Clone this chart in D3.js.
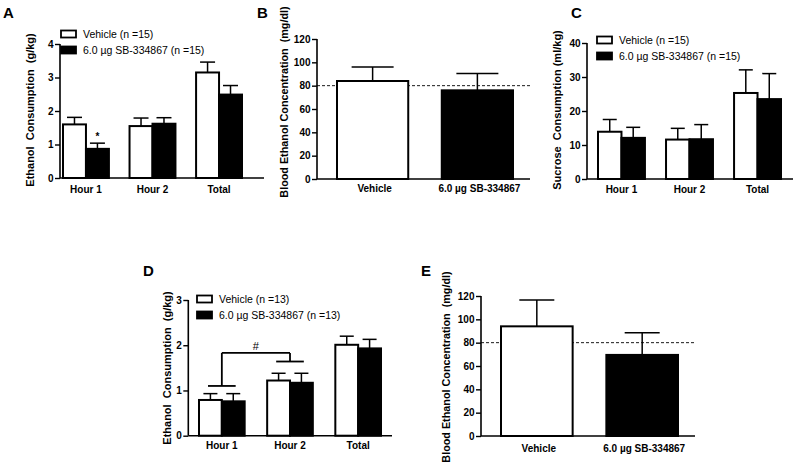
<!DOCTYPE html>
<html><head><meta charset="utf-8">
<script src="https://cdn.jsdelivr.net/npm/d3@7"></script>
<style>body{margin:0;background:#fff}svg{display:block}text{font-family:"Liberation Sans",Arial,sans-serif}</style>
</head><body>
<svg id="c" width="800" height="472"></svg>
<script>
// ---------- data ----------
const hourCats = ["Hour 1", "Hour 2", "Total"];
const becCats = ["Vehicle", "6.0 µg SB-334867"];
const seriesNames = ["Vehicle", "6.0 µg SB-334867"];

const aVehicle = [1.60, 1.55, 3.15];
const aVehicleErr = [0.21, 0.24, 0.31];
const aDrug = [0.87, 1.62, 2.49];
const aDrugErr = [0.17, 0.18, 0.27];
const aLegend = ["Vehicle (n =15)", "6.0 µg SB-334867 (n =15)"];

const bValues = [84, 76];
const bErr = [12, 14.5];

const cVehicle = [13.9, 11.6, 25.3];
const cVehicleErr = [3.6, 3.3, 6.8];
const cDrug = [12.1, 11.7, 23.5];
const cDrugErr = [3.1, 4.3, 7.5];
const cLegend = ["Vehicle (n =15)", "6.0 µg SB-334867 (n =15)"];

const dVehicle = [0.79, 1.22, 2.01];
const dVehicleErr = [0.14, 0.16, 0.19];
const dDrug = [0.76, 1.17, 1.93];
const dDrugErr = [0.17, 0.21, 0.20];
const dLegend = ["Vehicle (n =13)", "6.0 µg SB-334867 (n =13)"];

const eValues = [94, 69.5];
const eErr = [22.5, 19];

const aTicks = [0, 1, 2, 3, 4];
const bTicks = [0, 20, 40, 60, 80, 100, 120];
const cTicks = [0, 10, 20, 30, 40];
const dTicks = [0, 1, 2, 3];
const eTicks = [0, 20, 40, 60, 80, 100, 120];
const bloodThreshold = 80;

// ---------- drawing ----------
const svg = d3.select("#c");
const FONT = '"Liberation Sans",Arial,sans-serif';

function yAxis(g, y, x0, ticks, fs) {
  const ax = d3.axisLeft(y).tickValues(ticks).tickSize(5).tickPadding(1.5).tickFormat(d3.format("d"));
  const a = g.append("g").attr("transform", `translate(${x0},0)`).call(ax);
  a.select(".domain").attr("stroke", "#000").attr("stroke-width", 1.6).attr("d", `M0,${y(ticks[0])}V${y(ticks[ticks.length-1])}`);
  a.selectAll(".tick line").attr("stroke", "#000").attr("stroke-width", 1.4);
  a.selectAll(".tick text").attr("font-family", FONT).attr("font-weight", "bold").attr("font-size", fs).attr("fill", "#000");
}

function yTitle(g, text, x, y, fs) {
  g.append("text").attr("transform", `translate(${x},${y}) rotate(-90)`).attr("text-anchor", "middle")
    .attr("font-weight", "bold").attr("font-size", fs).attr("xml:space", "preserve").text(text);
}

function panelLabel(g, t, x, y) {
  g.append("text").attr("x", x).attr("y", y).attr("font-weight", "bold").attr("font-size", 15).text(t);
}

function errBar(g, cx, yTop, yErr, half) {
  g.append("line").attr("x1", cx).attr("x2", cx).attr("y1", yTop).attr("y2", yErr).attr("stroke", "#000").attr("stroke-width", 1.5);
  g.append("line").attr("x1", cx - half).attr("x2", cx + half).attr("y1", yErr).attr("y2", yErr).attr("stroke", "#000").attr("stroke-width", 1.5);
}

function legend(g, labels, x, y1, y2, fs) {
  [y1, y2].forEach((yy, i) => {
    g.append("rect").attr("x", x).attr("y", yy - 3.5).attr("width", 15).attr("height", 7)
      .attr("fill", i ? "#000" : "#fff").attr("stroke", "#000").attr("stroke-width", 1.8);
    g.append("text").attr("x", x + 22).attr("y", yy + 4).attr("font-size", fs).text(labels[i]);
  });
}

function grouped(o) {
  const g = svg.append("g");
  const y = d3.scaleLinear().domain([o.ticks[0], o.ticks[o.ticks.length-1]]).range([o.yBase, o.yTop]);
  const x = d3.scaleBand().domain(o.cats).range(o.band).paddingInner(o.pad).paddingOuter(0);
  const xs = d3.scaleBand().domain(seriesNames).range([0, x.bandwidth()]);
  const sets = [[o.veh, o.vehErr], [o.drug, o.drugErr]];
  o.cats.forEach((c, i) => {
    sets.forEach((s, j) => {
      const bx = x(c) + xs(seriesNames[j]);
      const top = y(s[0][i]);
      errBar(g, bx + xs.bandwidth() / 2, top, y(s[0][i] + s[1][i]), o.cap);
      g.append("rect").attr("x", bx).attr("y", top).attr("width", xs.bandwidth()).attr("height", y(0) - top)
        .attr("fill", j ? "#000" : "#fff").attr("stroke", "#000").attr("stroke-width", 2);
    });
    g.append("text").attr("x", x(c) + x.bandwidth() / 2).attr("y", o.labelY).attr("text-anchor", "middle")
      .attr("font-weight", "bold").attr("font-size", 10).text(c);
  });
  g.append("line").attr("x1", o.x0).attr("x2", o.xEnd).attr("y1", y(0)).attr("y2", y(0)).attr("stroke", "#000").attr("stroke-width", 1.6);
  yAxis(g, y, o.x0, o.ticks, 10);
  yTitle(g, o.title, o.titleX, o.titleY, 11);
  panelLabel(g, o.letter, o.letterX, o.letterY);
  legend(g, o.legend, o.legX, y(o.ticks[o.ticks.length-1]) - 1 + o.legDy, y(o.ticks[o.ticks.length-1]) + 15 + o.legDy, 10.5);
  return {g, x, xs, y};
}

function blood(o) {
  const g = svg.append("g");
  const y = d3.scaleLinear().domain([0, 120]).range([o.yBase, o.yTop]);
  const x = d3.scaleBand().domain(becCats).range(o.band).paddingInner(o.pad).paddingOuter(0);
  g.append("line").attr("x1", o.x0).attr("x2", o.xEnd).attr("y1", y(bloodThreshold)).attr("y2", y(bloodThreshold))
    .attr("stroke", "#000").attr("stroke-width", 0.9).attr("stroke-dasharray", "3,2");
  becCats.forEach((c, i) => {
    const top = y(o.vals[i]);
    errBar(g, x(c) + x.bandwidth() / 2, top, y(o.vals[i] + o.err[i]), o.cap);
    g.append("rect").attr("x", x(c)).attr("y", top).attr("width", x.bandwidth()).attr("height", y(0) - top)
      .attr("fill", i ? "#000" : "#fff").attr("stroke", "#000").attr("stroke-width", 2);
    g.append("text").attr("x", x(c) + x.bandwidth() / 2 + 2).attr("y", o.labelY).attr("text-anchor", "middle")
      .attr("font-weight", "bold").attr("font-size", 10).text(c);
  });
  g.append("line").attr("x1", o.x0).attr("x2", o.xEnd).attr("y1", y(0)).attr("y2", y(0)).attr("stroke", "#000").attr("stroke-width", 1.6);
  yAxis(g, y, o.x0, o.ticks, 10);
  yTitle(g, "Blood Ethanol Concentration  (mg/dl)", o.titleX, o.titleY, 10.8);
  panelLabel(g, o.letter, o.letterX, o.letterY);
}

// Panel A
const A = grouped({cats: hourCats, veh: aVehicle, vehErr: aVehicleErr, drug: aDrug, drugErr: aDrugErr,
  ticks: aTicks, yBase: 178, yTop: 44, band: [63, 242], pad: 0.31, x0: 60, xEnd: 264, cap: 7.5, labelY: 193,
  title: "Ethanol  Consumption  (g/kg)", titleX: 34, titleY: 110, letter: "A", letterX: 3, letterY: 18,
  legend: aLegend, legX: 61, legDy: -9});
A.g.append("text").attr("x", A.x("Hour 1") + A.xs("6.0 µg SB-334867") + A.xs.bandwidth() / 2).attr("y", A.y(aDrug[0] + aDrugErr[0]) - 3)
  .attr("text-anchor", "middle").attr("font-weight", "bold").attr("font-size", 10).text("*");

// Panel B
blood({vals: bValues, err: bErr, ticks: bTicks, yBase: 179, yTop: 39, band: [337, 513], pad: 0.32,
  x0: 317, xEnd: 530, cap: 21, labelY: 192, titleX: 288, titleY: 102, letter: "B", letterX: 257, letterY: 18});

// Panel C
grouped({cats: hourCats, veh: cVehicle, vehErr: cVehicleErr, drug: cDrug, drugErr: cDrugErr,
  ticks: cTicks, yBase: 179, yTop: 43, band: [598, 781], pad: 0.31, x0: 587, xEnd: 793, cap: 7, labelY: 193,
  title: "Sucrose  Consumption (ml/kg)", titleX: 561, titleY: 110, letter: "C", letterX: 571, letterY: 18,
  legend: cLegend, legX: 597, legDy: -2});

// Panel D
const D = grouped({cats: hourCats, veh: dVehicle, vehErr: dVehicleErr, drug: dDrug, drugErr: dDrugErr,
  ticks: dTicks, yBase: 435.7, yTop: 300, band: [199, 381], pad: 0.33, x0: 188.3, xEnd: 392, cap: 7, labelY: 449,
  title: "Ethanol  Consumption  (g/kg)", titleX: 171, titleY: 368, letter: "D", letterX: 143, letterY: 276,
  legend: dLegend, legX: 197, legDy: 0});
(function () {
  const h1 = D.x("Hour 1"), h2 = D.x("Hour 2"), bw = D.x.bandwidth();
  const yLow1 = D.y(1.1), yLow2 = D.y(1.64), yHigh = D.y(1.83);
  const s = (x1, y1, x2, y2) => D.g.append("line").attr("x1", x1).attr("y1", y1).attr("x2", x2).attr("y2", y2).attr("stroke", "#000").attr("stroke-width", 1.8);
  s(h1 + 9, yLow1, h1 + bw - 9, yLow1);
  s(h2 + 9, yLow2, h2 + bw - 9, yLow2);
  s(h1 + bw / 2, yLow1, h1 + bw / 2, yHigh);
  s(h1 + bw / 2, yHigh, h2 + bw / 2, yHigh);
  s(h2 + bw / 2, yHigh, h2 + bw / 2, yLow2);
  D.g.append("text").attr("x", (h1 + h2 + bw) / 2).attr("y", yHigh - 3).attr("text-anchor", "middle")
    .attr("font-size", 11).text("#");
})();

// Panel E
blood({vals: eValues, err: eErr, ticks: eTicks, yBase: 436, yTop: 296, band: [501, 678], pad: 0.32,
  x0: 481, xEnd: 695, cap: 17.5, labelY: 452, titleX: 450, titleY: 367, letter: "E", letterX: 421, letterY: 276});
</script>
</body></html>
